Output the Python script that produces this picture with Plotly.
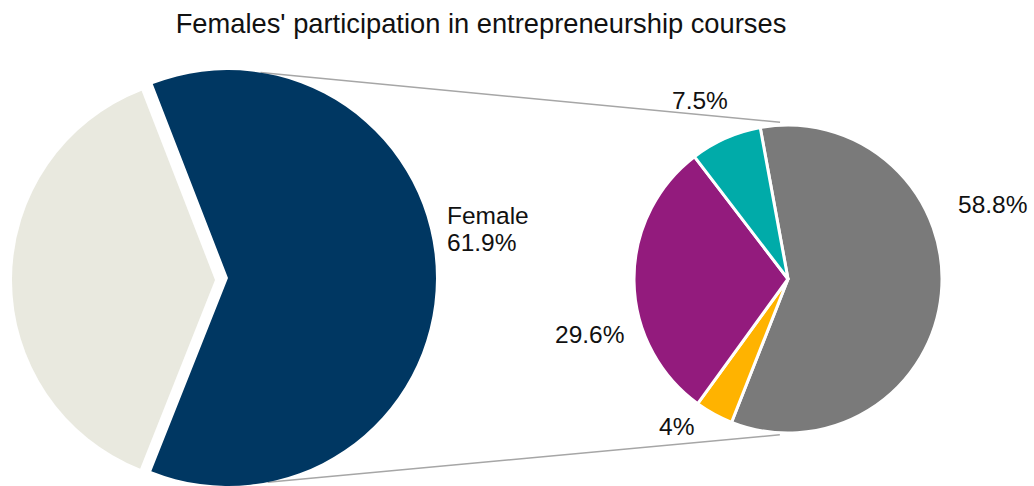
import math
import plotly.graph_objects as go

# ---- data ----
title_text = "Females' participation in entrepreneurship courses"
main_labels = ["Female", "Other"]
main_values = [61.9, 38.1]
sub_labels = ["Group A", "Group B", "Group C", "Group D"]
sub_values = [58.8, 4, 29.6, 7.5]

# ---- styles / geometry ----
W, H = 1034, 486
NAVY = "#003762"
BEIGE = "#e9e9df"
SUB_COLORS = ["#7a7a7a", "#ffb300", "#931b7d", "#00aba9"]
CLEAR = "rgba(0,0,0,0)"
FONT = "Liberation Sans, Arial, Helvetica, sans-serif"
TXT = "#111111"

def dom_x(cx, r):
    return [(cx - r) / W, (cx + r) / W]

def dom_y(cy, r):
    return [(H - (cy + r)) / H, (H - (cy - r)) / H]

# left pie: beige part (unexploded) and navy part (exploded right)
beige_c, beige_r = (215, 280), 203
navy_c, navy_r = (228, 278), 208
sub_c, sub_r = (788, 279), 154

fig = go.Figure()

fig.add_trace(go.Pie(
    labels=main_labels, values=main_values, sort=False, direction="clockwise",
    rotation=-21.2, textinfo="none", hoverinfo="label+percent",
    marker=dict(colors=[CLEAR, BEIGE], line=dict(width=0)),
    domain=dict(x=dom_x(beige_c[0], beige_r), y=dom_y(beige_c[1], beige_r)),
    showlegend=False,
))
fig.add_trace(go.Pie(
    labels=main_labels, values=main_values, sort=False, direction="clockwise",
    rotation=-21.2, textinfo="none", hoverinfo="label+percent",
    marker=dict(colors=[NAVY, CLEAR], line=dict(width=0)),
    domain=dict(x=dom_x(navy_c[0], navy_r), y=dom_y(navy_c[1], navy_r)),
    showlegend=False,
))
fig.add_trace(go.Pie(
    labels=sub_labels, values=sub_values, sort=False, direction="clockwise",
    rotation=-10.4, textinfo="none", hoverinfo="label+value",
    marker=dict(colors=SUB_COLORS, line=dict(color="white", width=3)),
    domain=dict(x=dom_x(sub_c[0], sub_r), y=dom_y(sub_c[1], sub_r)),
    showlegend=False,
))

# ---- connector (series) lines between the two pies ----
def pt(c, r, deg):
    a = math.radians(deg)
    return (c[0] + r * math.sin(a), c[1] - r * math.cos(a))

def to_paper(p):
    return p[0] / W, 1 - p[1] / H

shapes = []
for la, ra, rr in [(9, -2.9, sub_r + 3), (169, 183, sub_r + 2)]:
    x0, y0 = to_paper(pt(navy_c, navy_r, la))
    x1, y1 = to_paper(pt(sub_c, rr, ra))
    shapes.append(dict(type="line", xref="paper", yref="paper",
                       x0=x0, y0=y0, x1=x1, y1=y1, layer="below",
                       line=dict(color="#a6a6a6", width=1.5)))

# ---- data labels ----
def fmt(v):
    return f"{v:g}%"

label_pos = [  # (x px, y px, xanchor) for sub-pie values
    (992, 204, "center"),
    (676, 426, "center"),
    (589, 334.5, "center"),
    (700, 100.5, "center"),
]
annotations = []
for v, (px, py, xa) in zip(sub_values, label_pos):
    annotations.append(dict(text=fmt(v), x=px / W, y=1 - py / H, xref="paper", yref="paper",
                            xanchor=xa, yanchor="middle", showarrow=False,
                            font=dict(family=FONT, size=24.5, color=TXT)))
annotations.append(dict(text=main_labels[0], x=445 / W, y=1 - 215 / H, xref="paper", yref="paper",
                        xanchor="left", yanchor="middle", showarrow=False,
                        font=dict(family=FONT, size=24.5, color=TXT)))
annotations.append(dict(text=fmt(main_values[0]), x=445 / W, y=1 - 242 / H, xref="paper", yref="paper",
                        xanchor="left", yanchor="middle", showarrow=False,
                        font=dict(family=FONT, size=24.5, color=TXT)))

fig.update_layout(
    width=W, height=H,
    margin=dict(l=0, r=0, t=0, b=0),
    paper_bgcolor="white", plot_bgcolor="white",
    title=dict(text=title_text, x=481 / W, xanchor="center", xref="container",
               y=1 - 23.8 / H, yanchor="middle", yref="container",
               font=dict(family=FONT, size=27.3, color=TXT)),
    shapes=shapes, annotations=annotations,
)

fig.write_html(
    "out.html",
    config={"displayModeBar": False},
    post_script="document.body.style.margin='0';document.body.style.overflow='hidden';",
)
